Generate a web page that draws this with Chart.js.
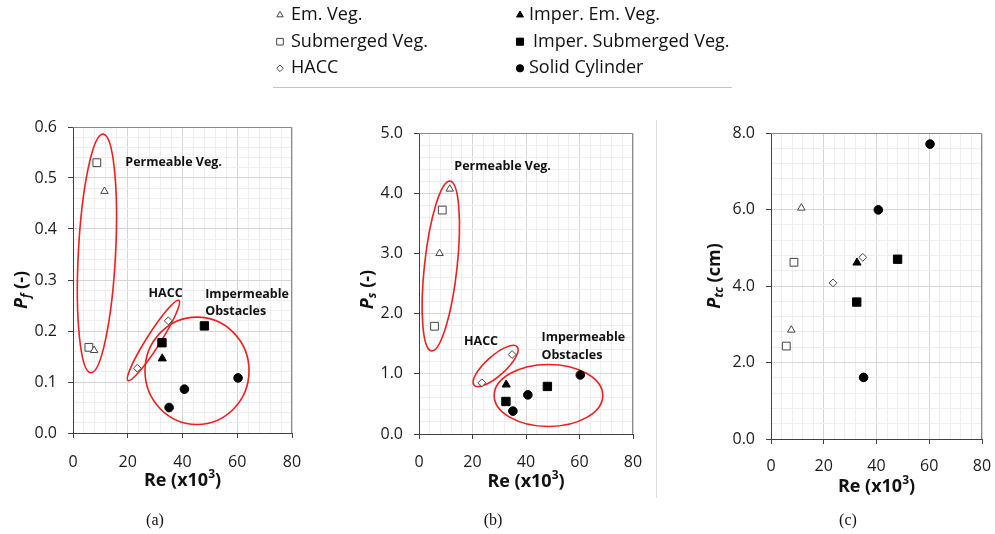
<!DOCTYPE html>
<html lang="en">
<head>
<meta charset="UTF-8">
<title>Re vs Pf, Ps, Ptc</title>
<script src="https://cdn.jsdelivr.net/npm/chart.js"></script>
<style>
    body { margin: 0; background: #fff; font-family: "Open Sans", sans-serif; }
    #page { position: relative; width: 995px; height: 534px; overflow: hidden; }
    canvas { position: absolute; }
    .cap { position: absolute; top: 511px; width: 40px; text-align: center;
           font-family: "Liberation Serif", serif; font-size: 16px; color: #111; }
    #sep { position: absolute; left: 656px; top: 120px; width: 1px; height: 378px; background: #dcdcdc; }
</style>
</head>
<body>
<div id="page">
    <canvas id="legend" width="995" height="95" style="left:0;top:0"></canvas>
    <canvas id="chartA" width="310" height="420" style="left:0;top:100px"></canvas>
    <canvas id="chartB" width="320" height="420" style="left:330px;top:100px"></canvas>
    <canvas id="chartC" width="315" height="420" style="left:680px;top:100px"></canvas>
    <div id="sep"></div>
    <div class="cap" style="left:135px">(a)</div>
    <div class="cap" style="left:473px">(b)</div>
    <div class="cap" style="left:828px">(c)</div>
</div>

<script>
    // Series names
    const seriesLabels = ['Em. Veg.', 'Submerged Veg.', 'HACC', 'Imper. Em. Veg.', 'Imper. Submerged Veg.', 'Solid Cylinder'];

    // Reynolds number (x10^3) per series
    const emVegRe    = [7.7, 11.5];
    const subVegRe   = [5.8, 8.7];
    const haccRe     = [23.5, 34.8];
    const imperEmRe  = [32.6];
    const imperSubRe = [32.5, 48.0];
    const cylRe      = [35.1, 40.7, 60.3];

    // Pf (-)
    const emVegPf    = [0.162, 0.474];
    const subVegPf   = [0.168, 0.530];
    const haccPf     = [0.127, 0.220];
    const imperEmPf  = [0.146];
    const imperSubPf = [0.177, 0.210];
    const cylPf      = [0.050, 0.086, 0.108];

    // Ps (-)
    const emVegPs    = [3.00, 4.07];
    const subVegPs   = [1.79, 3.72];
    const haccPs     = [0.85, 1.32];
    const imperEmPs  = [0.82];
    const imperSubPs = [0.54, 0.79];
    const cylPs      = [0.38, 0.65, 0.98];

    // Ptc (cm)
    const emVegPtc    = [2.85, 6.04];
    const subVegPtc   = [2.43, 4.62];
    const haccPtc     = [4.08, 4.75];
    const imperEmPtc  = [4.61];
    const imperSubPtc = [3.58, 4.70];
    const cylPtc      = [1.61, 5.99, 7.71];

    const reValues  = [emVegRe, subVegRe, haccRe, imperEmRe, imperSubRe, cylRe];
    const pfValues  = [emVegPf, subVegPf, haccPf, imperEmPf, imperSubPf, cylPf];
    const psValues  = [emVegPs, subVegPs, haccPs, imperEmPs, imperSubPs, cylPs];
    const ptcValues = [emVegPtc, subVegPtc, haccPtc, imperEmPtc, imperSubPtc, cylPtc];

    // marker per series
    const markers = [
        { shape: 'triangle', filled: false, r: 4.3 },
        { shape: 'rect',     filled: false, r: 5.5 },
        { shape: 'rectRot',  filled: false, r: 3.9 },
        { shape: 'triangle', filled: true,  r: 4.7 },
        { shape: 'rect',     filled: true,  r: 5.9 },
        { shape: 'circle',   filled: true,  r: 4.3 }
    ];

    // red grouping rings: major axis ends (data) and half width in Re units
    const ringsPf = [
        { x1: 11.0, y1: 0.586, x2: 6.5, y2: 0.118, w: 6.8 },
        { x1: 20.1, y1: 0.103, x2: 38.7, y2: 0.260, w: 2.5 },
        { x1: 26.3, y1: 0.122, x2: 64.3, y2: 0.122, w: 19.6 }
    ];
    const ringsPs = [
        { x1: 11.6, y1: 4.20, x2: 4.7, y2: 1.38, w: 6.1 },
        { x1: 20.6, y1: 0.81, x2: 36.7, y2: 1.45, w: 3.7 },
        { x1: 28.1, y1: 0.64, x2: 68.7, y2: 0.64, w: 11.6 }
    ];
    const notesPf = [
        { x: 19.1, y: 0.531, lines: ['Permeable Veg.'] },
        { x: 27.6, y: 0.274, lines: ['HACC'] },
        { x: 48.3, y: 0.272, lines: ['Impermeable', 'Obstacles'] }
    ];
    const notesPs = [
        { x: 13.2, y: 4.44, lines: ['Permeable Veg.'] },
        { x: 16.8, y: 1.54, lines: ['HACC'] },
        { x: 45.8, y: 1.60, lines: ['Impermeable', 'Obstacles'] }
    ];

    const FONT = '"Open Sans", sans-serif';

    function isMajor(v, step) {
        let q = v / step;
        return Math.abs(q - Math.round(q)) < 1e-6;
    }

    // rings, frame, notes and axis titles
    const overlayPlugin = {
        id: 'overlay',
        beforeDatasetsDraw(chart, args, opts) {
            const ctx = chart.ctx, a = chart.chartArea;
            const xs = chart.scales.x, ys = chart.scales.y;
            ctx.save();
            ctx.strokeStyle = '#8a8a8a';
            ctx.lineWidth = 1;
            ctx.beginPath();
            ctx.moveTo(a.left, a.top + 0.5);
            ctx.lineTo(a.right - 0.5, a.top + 0.5);
            ctx.lineTo(a.right - 0.5, a.bottom);
            ctx.stroke();

            ctx.strokeStyle = '#f01e1e';
            ctx.lineWidth = 1.6;
            let pxPerRe = Math.abs(xs.getPixelForValue(1) - xs.getPixelForValue(0));
            (opts.rings || []).forEach(e => {
                let px1 = xs.getPixelForValue(e.x1), py1 = ys.getPixelForValue(e.y1);
                let px2 = xs.getPixelForValue(e.x2), py2 = ys.getPixelForValue(e.y2);
                let cx = (px1 + px2) / 2, cy = (py1 + py2) / 2;
                let semi = Math.hypot(px2 - px1, py2 - py1) / 2;
                let ang = Math.atan2(py2 - py1, px2 - px1);
                ctx.beginPath();
                ctx.ellipse(cx, cy, semi, e.w * pxPerRe, ang, 0, Math.PI * 2);
                ctx.stroke();
            });
            ctx.restore();
        },
        afterDraw(chart, args, opts) {
            const ctx = chart.ctx, a = chart.chartArea;
            const xs = chart.scales.x, ys = chart.scales.y;
            ctx.save();
            ctx.fillStyle = '#111';

            // group labels
            ctx.font = 'bold 12.5px ' + FONT;
            ctx.textAlign = 'left';
            ctx.textBaseline = 'middle';
            (opts.notes || []).forEach(n => {
                let px = xs.getPixelForValue(n.x), py = ys.getPixelForValue(n.y);
                n.lines.forEach((t, i) => ctx.fillText(t, px, py + i * 17.5));
            });

            // x title with superscript
            let xt = opts.xTitle;
            let fBig = 'bold 18px ' + FONT, fSmall = 'bold 12px ' + FONT;
            ctx.font = fBig;  let w1 = ctx.measureText(xt.main).width, w3 = ctx.measureText(xt.tail).width;
            ctx.font = fSmall; let w2 = ctx.measureText(xt.sup).width;
            let sx = (a.left + a.right) / 2 - (w1 + w2 + w3) / 2, sy = a.bottom + 48;
            ctx.font = fBig;   ctx.fillText(xt.main, sx, sy);
            ctx.font = fSmall; ctx.fillText(xt.sup, sx + w1, sy - 6);
            ctx.font = fBig;   ctx.fillText(xt.tail, sx + w1 + w2, sy);

            // y title, rotated, with subscript
            let yt = opts.yTitle;
            let fP = 'italic bold 18px ' + FONT, fSub = 'italic bold 12px ' + FONT;
            ctx.translate(a.left + yt.dx, (a.top + a.bottom) / 2 + yt.dy);
            ctx.rotate(-Math.PI / 2);
            ctx.font = fP;   let v1 = ctx.measureText(yt.main).width;
            ctx.font = fSub; let v2 = ctx.measureText(yt.sub).width;
            ctx.font = fBig; let v3 = ctx.measureText(yt.tail).width;
            let st = -(v1 + v2 + v3) / 2;
            ctx.font = fP;   ctx.fillText(yt.main, st, 0);
            ctx.font = fSub; ctx.fillText(yt.sub, st + v1, 5);
            ctx.font = fBig; ctx.fillText(yt.tail, st + v1 + v2, 0);
            ctx.restore();
        }
    };

    function makeDatasets(yValues) {
        return seriesLabels.map((label, i) => ({
            label: label,
            data: reValues[i].map((re, j) => ({ x: re, y: yValues[i][j] })),
            pointStyle: markers[i].shape,
            pointRadius: markers[i].r,
            pointBackgroundColor: markers[i].filled ? '#000' : '#fff',
            pointBorderColor: markers[i].filled ? '#000' : '#444',
            pointBorderWidth: 1,
            showLine: false
        }));
    }

    function makeChart(id, yValues, yMax, yMajor, box, overlay) {
        let tickFont = { family: FONT, size: 16 };
        return new Chart(document.getElementById(id), {
            type: 'scatter',
            data: { datasets: makeDatasets(yValues) },
            options: {
                responsive: false,
                animation: false,
                layout: { autoPadding: false, padding: { left: 0, top: box.top, right: box.right, bottom: box.bottom } },
                plugins: { legend: { display: false }, tooltip: { enabled: false }, overlay: overlay },
                scales: {
                    x: {
                        type: 'linear', min: 0, max: 80,
                        // fixed box so the plot area lands where wanted
                        afterFit: s => { s.height = 60; s.paddingLeft = 0; s.paddingRight = 0; },
                        ticks: {
                            stepSize: 4, autoSkip: false, maxRotation: 0, padding: box.xPad,
                            color: '#1a1a1a', font: tickFont,
                            callback: v => isMajor(v, 20) ? String(Math.round(v)) : ''
                        },
                        grid: {
                            color: c => isMajor(c.tick.value, 20) ? '#d6d6d6' : '#eeeeee',
                            tickColor: c => isMajor(c.tick.value, 20) ? '#404040' : 'rgba(0,0,0,0)',
                            tickLength: 5
                        },
                        border: { color: '#404040', width: 1 }
                    },
                    y: {
                        type: 'linear', min: 0, max: yMax,
                        afterFit: s => { s.width = box.yWidth; s.paddingTop = 0; s.paddingBottom = 0; },
                        ticks: {
                            stepSize: yMajor / 5, autoSkip: false, padding: 11,
                            color: '#1a1a1a', font: tickFont,
                            callback: v => isMajor(v, yMajor) ? v.toFixed(1) : ''
                        },
                        grid: {
                            color: c => isMajor(c.tick.value, yMajor) ? '#d6d6d6' : '#eeeeee',
                            tickColor: c => isMajor(c.tick.value, yMajor) ? '#404040' : 'rgba(0,0,0,0)',
                            tickLength: 5
                        },
                        border: { color: '#404040', width: 1 }
                    }
                }
            },
            plugins: [overlayPlugin]
        });
    }

    const reTitle = { main: 'Re (x10', sup: '3', tail: ')' };

    makeChart('chartA', pfValues, 0.6, 0.1,
        { top: 27, right: 18, bottom: 27, yWidth: 73, xPad: 15 },
        { rings: ringsPf, notes: notesPf, xTitle: reTitle, yTitle: { main: 'P', sub: 'f', tail: ' (-)', dx: -51, dy: 10 } });

    makeChart('chartB', psValues, 5.0, 1.0,
        { top: 33, right: 17, bottom: 26, yWidth: 89, xPad: 14 },
        { rings: ringsPs, notes: notesPs, xTitle: reTitle, yTitle: { main: 'P', sub: 's', tail: ' (-)', dx: -51, dy: 6 } });

    makeChart('chartC', ptcValues, 8.0, 2.0,
        { top: 33, right: 13, bottom: 21, yWidth: 91, xPad: 13 },
        { rings: [], notes: [], xTitle: reTitle, yTitle: { main: 'P', sub: 'tc', tail: ' (cm)', dx: -56, dy: -10 } });

    // shared legend, two columns
    function drawMarker(ctx, m, x, y, r) {
        ctx.beginPath();
        if (m.shape === 'circle') {
            ctx.arc(x, y, r, 0, Math.PI * 2);
        } else if (m.shape === 'rect') {
            let s = r * Math.SQRT1_2;
            ctx.rect(x - s, y - s, 2 * s, 2 * s);
        } else if (m.shape === 'rectRot') {
            ctx.moveTo(x, y - r); ctx.lineTo(x + r, y); ctx.lineTo(x, y + r); ctx.lineTo(x - r, y); ctx.closePath();
        } else {
            for (let k = 0; k < 3; k++) {
                let ang = k * 2 * Math.PI / 3;
                let px = x + Math.sin(ang) * r, py = y - Math.cos(ang) * r;
                if (k === 0) ctx.moveTo(px, py); else ctx.lineTo(px, py);
            }
            ctx.closePath();
        }
        ctx.fillStyle = m.filled ? '#000' : '#fff';
        ctx.fill();
        ctx.strokeStyle = m.filled ? '#000' : '#444';
        ctx.lineWidth = 1;
        ctx.stroke();
    }

    (function drawLegend() {
        const ctx = document.getElementById('legend').getContext('2d');
        const colMarkerX = [280, 520], colTextX = [291, 529], rowY = [15, 41.7, 68.3];
        ctx.font = '18px ' + FONT;
        ctx.textBaseline = 'middle';
        seriesLabels.forEach((label, i) => {
            let col = Math.floor(i / 3), row = i % 3;
            drawMarker(ctx, markers[i], colMarkerX[col], rowY[row], markers[i].r * 0.85);
            ctx.fillStyle = '#111';
            ctx.fillText(label, colTextX[col] + (i === 4 ? 4 : 0), rowY[row]);
        });
        ctx.strokeStyle = '#c4c4c4';
        ctx.lineWidth = 1;
        ctx.beginPath();
        ctx.moveTo(273, 87.5);
        ctx.lineTo(732, 87.5);
        ctx.stroke();
    })();
</script>
</body>
</html>
